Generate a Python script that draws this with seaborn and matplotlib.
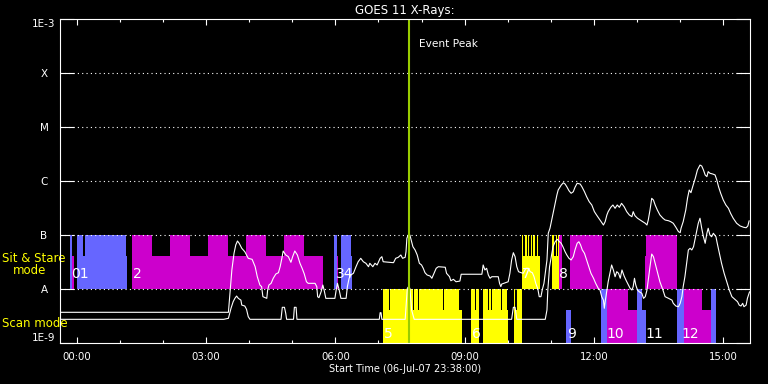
import matplotlib
matplotlib.use("Agg")
import matplotlib.pyplot as plt
import matplotlib.transforms as mtransforms
from matplotlib.ticker import MultipleLocator, NullLocator
import pandas as pd
import seaborn as sns

# ---------------- data (hours after 00:00, flux in W/m^2) ----------------
long_time = [-0.38, 3.50, 3.52, 3.60, 3.65, 3.69, 3.73, 3.77, 3.83, 3.90,
             3.98, 4.07, 4.14, 4.19, 4.25, 4.29, 4.32, 4.41, 4.43, 4.46,
             4.51, 4.56, 4.62, 4.68, 4.72, 4.76, 4.79, 4.85, 4.91, 4.97,
             5.01, 5.06, 5.12, 5.18, 5.23, 5.28, 5.33, 5.37, 5.53, 5.57,
             5.59, 5.62, 5.67, 5.71, 5.74, 5.78, 5.99, 6.02, 6.05, 6.09,
             6.13, 6.25, 6.28, 6.32, 6.36, 6.42, 6.48, 6.53, 6.59, 6.65,
             6.71, 6.77, 6.80, 6.87, 6.92, 6.97, 7.04, 7.08, 7.11, 7.35,
             7.40, 7.46, 7.52, 7.56, 7.62, 7.64, 7.66, 7.69, 7.73, 7.76,
             7.80, 7.85, 7.90, 7.95, 8.00, 8.04, 8.08, 8.13, 8.20, 8.24,
             8.29, 8.34, 8.39, 8.55, 8.58, 8.65, 8.68, 8.74, 8.80, 8.89,
             8.92, 9.40, 9.43, 9.47, 9.51, 9.55, 9.59, 9.63, 9.78, 9.81,
             9.84, 9.86, 10.01, 10.05, 10.09, 10.13, 10.17, 10.21, 10.25, 10.31,
             10.36, 10.42, 10.48, 10.52, 10.57, 10.61, 10.65, 10.70, 10.73, 10.77,
             10.80, 10.84, 10.87, 10.91, 10.94, 10.98, 11.02, 11.06, 11.10, 11.14,
             11.17, 11.24, 11.29, 11.33, 11.37, 11.42, 11.47, 11.52, 11.56, 11.61,
             11.68, 11.72, 11.78, 11.83, 11.89, 11.95, 12.01, 12.06, 12.14, 12.22,
             12.26, 12.30, 12.33, 12.39, 12.44, 12.49, 12.54, 12.59, 12.64, 12.70,
             12.76, 12.82, 12.88, 12.91, 12.95, 13.01, 13.07, 13.13, 13.19, 13.23,
             13.26, 13.30, 13.34, 13.38, 13.42, 13.47, 13.53, 13.60, 13.65, 13.73,
             13.78, 13.84, 13.90, 13.96, 14.00, 14.02, 14.07, 14.13, 14.17, 14.21,
             14.25, 14.29, 14.35, 14.40, 14.46, 14.50, 14.54, 14.58, 14.62, 14.65,
             14.69, 14.76, 14.81, 14.85, 14.89, 14.94, 15.00, 15.06, 15.12, 15.17,
             15.23, 15.31, 15.39, 15.47, 15.53, 15.57, 15.60]
long_flux = [3.75e-9, 3.75e-9, 3.75e-9, 2.28e-8, 4.64e-8, 6.61e-8, 7.84e-8, 7.11e-8, 5.74e-8, 4.97e-8,
             3.75e-8, 3.59e-8, 2.62e-8, 1.71e-8, 1.20e-8, 1.12e-8, 7.3e-9, 6.8e-9, 9.7e-9, 1.20e-8,
             1.29e-8, 1.60e-8, 1.92e-8, 2.03e-8, 2.62e-8, 3.75e-8, 5.12e-8, 4.32e-8, 4.02e-8, 3.16e-8,
             4.02e-8, 5.12e-8, 4.32e-8, 3.03e-8, 2.45e-8, 1.92e-8, 1.38e-8, 1.29e-8, 1.29e-8, 1.12e-8,
             7.3e-9, 7.0e-9, 9.0e-9, 1.20e-8, 9.7e-9, 6.8e-9, 6.8e-9, 9.7e-9, 1.29e-8, 9.7e-9,
             6.8e-9, 6.8e-9, 1.12e-8, 1.60e-8, 1.84e-8, 1.98e-8, 2.62e-8, 3.24e-8, 3.75e-8, 3.24e-8,
             3.03e-8, 2.62e-8, 3.03e-8, 2.62e-8, 3.03e-8, 2.82e-8, 3.75e-8, 4.02e-8, 3.24e-8, 3.11e-8,
             3.75e-8, 3.91e-8, 4.32e-8, 3.75e-8, 3.91e-8, 4.97e-8, 8.8e-8, 1.01e-7, 1.01e-7, 8.2e-8,
             6.15e-8, 5.35e-8, 4.32e-8, 3.03e-8, 2.82e-8, 2.45e-8, 2.03e-8, 1.84e-8, 1.76e-8, 1.60e-8,
             1.98e-8, 2.45e-8, 2.62e-8, 2.56e-8, 1.98e-8, 1.71e-8, 1.44e-8, 1.53e-8, 1.38e-8, 1.42e-8,
             1.90e-8, 1.90e-8, 2.82e-8, 2.28e-8, 2.45e-8, 1.84e-8, 1.60e-8, 1.71e-8, 1.71e-8, 1.29e-8,
             1.12e-8, 1.25e-8, 1.38e-8, 1.98e-8, 3.49e-8, 4.76e-8, 4.02e-8, 2.62e-8, 2.12e-8, 2.03e-8,
             1.98e-8, 2.45e-8, 2.45e-8, 2.12e-8, 2.03e-8, 1.71e-8, 1.29e-8, 1.0e-8, 7.3e-9, 7.3e-9,
             9.7e-9, 1.29e-8, 1.98e-8, 3.49e-8, 1.09e-7, 1.35e-7, 1.92e-7, 2.74e-7, 3.91e-7, 5.57e-7,
             6.9e-7, 8.5e-7, 9.4e-7, 8.9e-7, 7.94e-7, 6.7e-7, 6.0e-7, 6.4e-7, 7.74e-7, 9.2e-7,
             8.9e-7, 7.94e-7, 6.4e-7, 5.19e-7, 4.19e-7, 3.64e-7, 2.74e-7, 2.38e-7, 1.92e-7, 1.55e-7,
             1.79e-7, 2.38e-7, 2.74e-7, 3.30e-7, 3.64e-7, 3.16e-7, 3.64e-7, 3.30e-7, 3.91e-7, 3.39e-7,
             2.74e-7, 2.38e-7, 2.21e-7, 2.74e-7, 2.31e-7, 2.07e-7, 1.92e-7, 1.79e-7, 1.67e-7, 1.55e-7,
             1.92e-7, 2.94e-7, 4.84e-7, 4.5e-7, 3.64e-7, 2.94e-7, 2.38e-7, 2.07e-7, 1.92e-7, 1.86e-7,
             1.79e-7, 1.67e-7, 1.41e-7, 1.17e-7, 1.12e-7, 1.35e-7, 1.79e-7, 2.94e-7, 4.84e-7, 6.9e-7,
             6.15e-7, 7.94e-7, 1.14e-6, 1.62e-6, 2.0e-6, 1.92e-6, 1.62e-6, 1.31e-6, 1.22e-6, 1.51e-6,
             1.41e-6, 1.36e-6, 1.31e-6, 1.06e-6, 7.94e-7, 6.0e-7, 4.5e-7, 3.64e-7, 3.16e-7, 2.55e-7,
             2.07e-7, 1.67e-7, 1.49e-7, 1.41e-7, 1.38e-7, 1.49e-7, 1.86e-7]

short_time = [-0.38, 3.41, 3.52, 3.58, 3.63, 3.67, 3.71, 3.75, 3.81, 3.83,
              3.90, 3.94, 3.98, 4.02, 4.74, 4.77, 4.82, 4.85, 4.87, 5.03,
              5.05, 5.09, 5.11, 7.02, 7.04, 7.06, 7.08, 7.62, 7.67, 7.70,
              7.73, 7.77, 7.83, 10.09, 10.13, 10.17, 10.21, 10.87, 10.91, 10.93,
              10.97, 11.01, 11.05, 11.10, 11.15, 11.20, 11.24, 11.28, 11.33, 11.37,
              11.42, 11.47, 11.52, 11.56, 11.61, 11.65, 11.69, 11.73, 11.78, 11.83,
              11.89, 11.93, 11.99, 12.04, 12.10, 12.14, 12.18, 12.22, 12.24, 12.26,
              12.30, 12.33, 12.37, 12.41, 12.45, 12.49, 12.53, 12.57, 12.61, 12.65,
              12.70, 12.75, 12.80, 12.84, 12.88, 12.91, 12.94, 12.97, 13.01, 13.05,
              13.11, 13.15, 13.19, 13.23, 13.26, 13.30, 13.34, 13.38, 13.42, 13.47,
              13.53, 13.60, 13.65, 13.73, 13.81, 13.84, 13.90, 13.96, 14.00, 14.04,
              14.07, 14.11, 14.15, 14.19, 14.23, 14.27, 14.31, 14.35, 14.39, 14.42,
              14.46, 14.50, 14.54, 14.58, 14.62, 14.65, 14.69, 14.73, 14.77, 14.83,
              14.86, 14.91, 14.96, 15.02, 15.08, 15.14, 15.20, 15.27, 15.33, 15.37,
              15.41, 15.45, 15.48, 15.53, 15.56, 15.61]
short_flux = [2.78e-9, 2.78e-9, 2.9e-9, 4.45e-9, 5.9e-9, 6.8e-9, 7.5e-9, 6.8e-9, 6.3e-9, 5.1e-9,
              4.9e-9, 4.26e-9, 3.11e-9, 2.78e-9, 2.78e-9, 4.64e-9, 4.64e-9, 3.59e-9, 2.78e-9, 2.78e-9,
              4.64e-9, 4.64e-9, 2.78e-9, 2.78e-9, 3.69e-9, 3.69e-9, 2.78e-9, 2.78e-9, 1.04e-8, 1.12e-8,
              1.04e-8, 4.14e-9, 2.78e-9, 2.78e-9, 4.64e-9, 4.64e-9, 2.78e-9, 2.78e-9, 4.14e-9, 9.7e-9,
              2.62e-8, 4.02e-8, 6.15e-8, 7.6e-8, 8.43e-8, 7.6e-8, 7.11e-8, 6.15e-8, 4.97e-8, 4.32e-8,
              3.75e-8, 3.49e-8, 4.02e-8, 5.35e-8, 7.11e-8, 7.6e-8, 6.61e-8, 5.35e-8, 4.64e-8, 3.49e-8,
              2.45e-8, 1.98e-8, 1.60e-8, 1.29e-8, 1.04e-8, 9.7e-9, 7.3e-9, 6.3e-9, 4.45e-9, 5.9e-9,
              9.7e-9, 1.38e-8, 1.98e-8, 2.82e-8, 2.28e-8, 1.71e-8, 2.12e-8, 1.98e-8, 1.60e-8, 2.28e-8,
              1.76e-8, 1.44e-8, 1.20e-8, 1.04e-8, 9.7e-9, 1.12e-8, 1.60e-8, 1.20e-8, 9.7e-9, 9.0e-9,
              8.43e-9, 6.8e-9, 7.3e-9, 9.7e-9, 1.49e-8, 2.62e-8, 4.5e-8, 4.02e-8, 3.03e-8, 2.12e-8,
              1.38e-8, 9.7e-9, 7.3e-9, 6.8e-9, 6.3e-9, 5.5e-9, 4.9e-9, 4.76e-9, 5.5e-9, 7.3e-9,
              1.12e-8, 1.71e-8, 3.03e-8, 5.35e-8, 5.74e-8, 5.35e-8, 6.15e-8, 8.8e-8, 1.25e-7, 1.67e-7,
              2.07e-7, 1.35e-7, 9.4e-8, 7.11e-8, 1.09e-7, 1.35e-7, 1.01e-7, 9.4e-8, 1.09e-7, 9.4e-8,
              7.11e-8, 4.64e-8, 3.03e-8, 1.98e-8, 1.38e-8, 9.7e-9, 7.3e-9, 6.53e-9, 5.9e-9, 5.1e-9,
              4.9e-9, 5.5e-9, 4.76e-9, 5.1e-9, 6.8e-9, 9.0e-9]

# Sit & Stare mode observation segments (hours)
sit_start = [-0.155, -0.116, 0.000, 0.000, 0.190, 1.283, 1.283, 2.165, 3.053, 3.928,
             4.810, 5.970, 6.032, 6.132, 6.132, 10.332, 10.332, 10.401, 10.478, 10.534,
             10.594, 10.673, 11.035, 11.035, 11.110, 11.155, 11.183, 11.445, 13.186, 13.209]
sit_end = [-0.116, -0.063, 1.160, 0.153, 1.137, 5.715, 1.740, 2.629, 3.503, 4.385,
           5.274, 6.032, 6.056, 6.387, 6.357, 10.750, 10.362, 10.441, 10.501, 10.557,
           10.626, 10.696, 11.183, 11.080, 11.140, 11.183, 11.253, 12.181, 13.921, 13.921]
sit_level = ['full', 'part', 'part', 'full', 'full', 'part', 'full', 'full', 'full', 'full',
             'full', 'full', 'part', 'part', 'full', 'part', 'full', 'full', 'full', 'full',
             'full', 'full', 'part', 'full', 'full', 'full', 'full', 'full', 'part', 'full']
sit_color = ['blue', 'magenta', 'blue', 'blue', 'blue', 'magenta', 'magenta', 'magenta', 'magenta', 'magenta',
             'magenta', 'blue', 'magenta', 'blue', 'blue', 'yellow', 'yellow', 'yellow', 'yellow', 'yellow',
             'yellow', 'yellow', 'yellow', 'yellow', 'yellow', 'yellow', 'magenta', 'magenta', 'magenta', 'magenta']

# Scan mode observation segments (hours)
scan_start = [7.114, 7.114, 7.276, 7.833, 7.935, 8.515, 9.148, 9.148, 9.265, 9.434,
              9.434, 9.570, 9.630, 9.860, 10.146, 10.146, 10.210, 11.353, 12.165, 12.311,
              12.311, 12.993, 12.993, 13.921, 14.090, 14.090, 14.717]
scan_end = [8.933, 7.253, 7.810, 7.912, 8.492, 8.877, 9.334, 9.241, 9.334, 10.000,
            9.550, 9.610, 9.840, 9.980, 10.325, 10.170, 10.325, 11.469, 12.311, 12.993,
            12.798, 13.209, 13.109, 14.090, 14.717, 14.501, 14.833]
scan_level = ['part', 'full', 'full', 'full', 'full', 'full', 'part', 'full', 'full', 'part',
              'full', 'full', 'full', 'full', 'part', 'full', 'full', 'part', 'full', 'part',
              'full', 'part', 'full', 'full', 'part', 'full', 'full']
scan_color = ['yellow', 'yellow', 'yellow', 'yellow', 'yellow', 'yellow', 'yellow', 'yellow', 'yellow', 'yellow',
              'yellow', 'yellow', 'yellow', 'yellow', 'yellow', 'yellow', 'yellow', 'blue', 'blue', 'magenta',
              'magenta', 'blue', 'blue', 'blue', 'magenta', 'magenta', 'blue']

# segment number labels
label_text = ['01', '2', '34', '5', '6', '7', '8', '9', '10', '11', '12']
label_time = [-0.13, 1.30, 6.01, 7.13, 9.17, 10.33, 11.19, 11.37, 12.30, 13.19, 14.04]
label_mode = ['sit', 'sit', 'sit', 'scan', 'scan', 'sit', 'sit', 'scan', 'scan', 'scan', 'scan']

flare_levels = [1e-9, 1e-8, 1e-7, 1e-6, 1e-5, 1e-4, 1e-3]
flare_names = ['1E-9', 'A', 'B', 'C', 'M', 'X', '1E-3']
hour_ticks = [0, 3, 6, 9, 12, 15]
hour_labels = ['00:00', '03:00', '06:00', '09:00', '12:00', '15:00']
event_peak_time = 7.71
time_min, time_max = -0.38, 15.62

# band geometry (flux levels)
band_bottom = {'sit': 1e-8, 'scan': 1e-9}
band_full = {'sit': 1e-7, 'scan': 1e-8}
band_part = {'sit': 4.14e-8, 'scan': 4.14e-9}
label_base = {'sit': 1.6e-8, 'scan': 1.24e-9}
palette = {'blue': '#6666ff', 'magenta': '#cc00cc', 'yellow': '#ffff00'}

# ---------------- plotting ----------------
sns.set_theme(style="dark", rc={
    "axes.facecolor": "black", "figure.facecolor": "black",
    "axes.edgecolor": "white", "axes.labelcolor": "white",
    "xtick.color": "white", "ytick.color": "white", "text.color": "white",
})
plt.rcParams['font.family'] = ['DejaVu Sans']

fig = plt.figure(figsize=(7.68, 3.84), dpi=100)
ax = fig.add_axes([60.3 / 768, (384 - 343.3) / 384, (750 - 60.3) / 768, (343.3 - 19.3) / 384])
ax.set_facecolor('black')
ax.grid(False)
ax.set_yscale('log')

def draw_band(mode, starts, ends, levels, colors):
    for s, e, lv, c in zip(starts, ends, levels, colors, strict=True):
        top = band_full[mode] if lv == 'full' else band_part[mode]
        ax.bar(s, top - band_bottom[mode], width=e - s, bottom=band_bottom[mode],
               align='edge', color=palette[c], linewidth=0, zorder=1)

draw_band('sit', sit_start, sit_end, sit_level, sit_color)
draw_band('scan', scan_start, scan_end, scan_level, scan_color)

for lvl in flare_levels[1:-1]:
    ax.axhline(lvl, color='white', lw=0.8, linestyle=(0, (1, 2.9)), zorder=2)

df = pd.concat([
    pd.DataFrame({'hours': long_time, 'flux': long_flux, 'channel': '1.0-8.0 A'}),
    pd.DataFrame({'hours': short_time, 'flux': short_flux, 'channel': '0.5-4.0 A'}),
], ignore_index=True)
sns.lineplot(data=df, x='hours', y='flux', hue='channel', palette=['white', 'white'],
             estimator=None, linewidth=0.8, legend=False, ax=ax, zorder=3)

ax.axvline(event_peak_time, color='#99cc00', lw=1.5, zorder=5)
ax.text(event_peak_time + 0.23, 3.49e-4, 'Event Peak', color='white', fontsize=7.6,
        va='center', ha='left', zorder=6)

for txt, t, m in zip(label_text, label_time, label_mode, strict=True):
    ax.text(t, label_base[m], txt, color='white', fontsize=10, ha='left', va='baseline', zorder=6)

ax.set_xlim(time_min, time_max)
ax.set_ylim(flare_levels[0], flare_levels[-1])
ax.set_yticks(flare_levels, flare_names)
ax.yaxis.set_minor_locator(NullLocator())
ax.tick_params(axis='y', which='major', direction='in', length=10, width=0.8, colors='white',
               left=True, right=True, labelleft=True, labelright=False, pad=11.7, labelsize=7.5)
for lbl in ax.get_yticklabels():
    lbl.set_horizontalalignment('center')
ylbls = ax.get_yticklabels()
ylbls[0].set_verticalalignment('bottom')
ylbls[-1].set_verticalalignment('top')

ax.set_xticks(hour_ticks, hour_labels)
ax.xaxis.set_minor_locator(MultipleLocator(1))
ax.tick_params(axis='x', which='major', direction='in', length=4.3, width=0.8, colors='white',
               top=True, bottom=True, pad=6, labelsize=7.3)
ax.tick_params(axis='x', which='minor', direction='in', length=2.4, width=0.8, colors='white',
               top=True, bottom=True)

for sp in ax.spines.values():
    sp.set_color('white')
    sp.set_linewidth(0.8)
    sp.set_zorder(7)

ax.set_xlabel('Start Time (06-Jul-07 23:38:00)', fontsize=7, color='white', labelpad=1.5)
ax.set_ylabel('')
ax.set_title('GOES 11 X-Rays:', fontsize=8.5, color='white', pad=3.8)

# mode labels on the left
trans = mtransforms.blended_transform_factory(fig.transFigure, ax.transData)
ax.text(2 / 768, 3.75e-8, 'Sit & Stare', transform=trans, color='#ffff00', fontsize=8.5,
        ha='left', va='center', clip_on=False)
ax.text(12.7 / 768, 2.21e-8, 'mode', transform=trans, color='#ffff00', fontsize=8.5,
        ha='left', va='center', clip_on=False)
ax.text(2 / 768, 2.28e-9, 'Scan mode', transform=trans, color='#ffff00', fontsize=8.5,
        ha='left', va='center', clip_on=False)

fig.savefig('out.png', dpi=100, facecolor='black')
